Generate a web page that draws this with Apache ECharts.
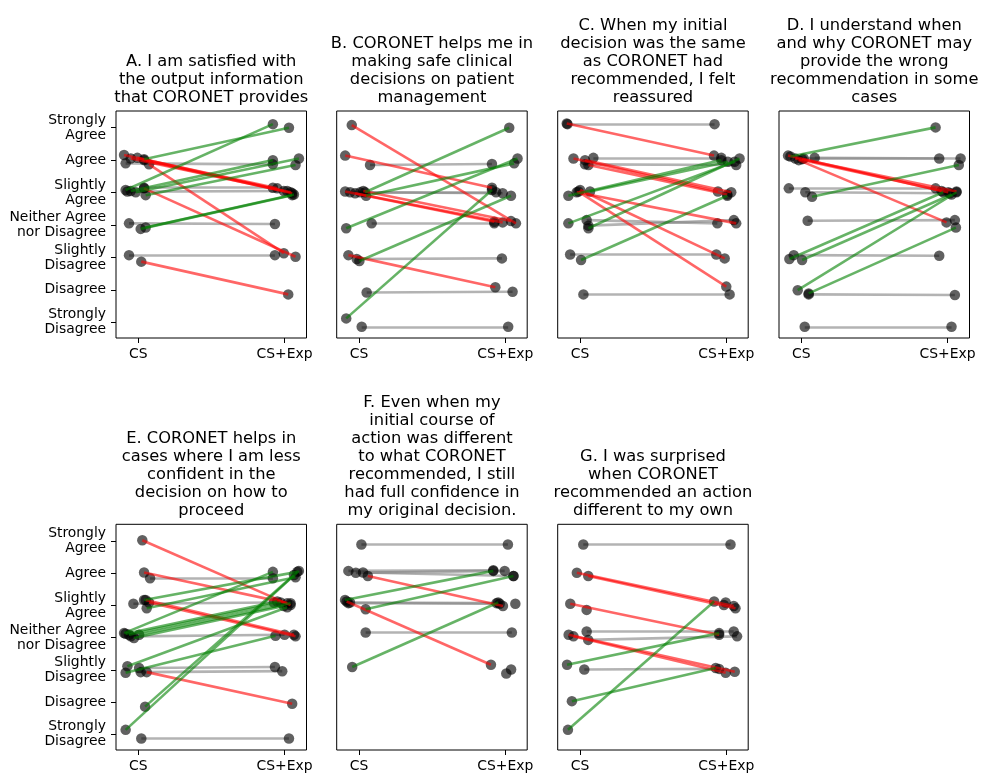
<!DOCTYPE html>
<html>
<head>
<meta charset="utf-8">
<script src="https://cdn.jsdelivr.net/npm/echarts@6/dist/echarts.min.js"></script>
<style>html,body{margin:0;padding:0;background:#fff}#c{width:982px;height:774px}</style>
</head>
<body>
<div id="c"></div>
<script>
// Likert tick labels (value 1..7)
const yLabels = ['Strongly\nDisagree','Disagree','Slightly\nDisagree','Neither Agree\nnor Disagree','Slightly\nAgree','Agree','Strongly\nAgree'];
const xLabels = ['CS','CS+Exp'];
const titles = [
  'A. I am satisfied with\nthe output information\nthat CORONET provides',
  'B. CORONET helps me in\nmaking safe clinical\ndecisions on patient\nmanagement',
  'C. When my initial\ndecision was the same\nas CORONET had\nrecommended, I felt\nreassured',
  'D. I understand when\nand why CORONET may\nprovide the wrong\nrecommendation in some\ncases',
  'E. CORONET helps in\ncases where I am less\nconfident in the\ndecision on how to\nproceed',
  'F. Even when my\ninitial course of\naction was different\nto what CORONET\nrecommended, I still\nhad full confidence in\nmy original decision.',
  'G. I was surprised\nwhen CORONET\nrecommended an action\ndifferent to my own'
];
// each participant: [CS x (jittered), CS rating (jittered), CS+Exp x (jittered), CS+Exp rating (jittered)]
const panelA = [
  [-0.087,5.08,0.920,7.11],[0.039,6.03,1.030,7.00],[-0.052,5.05,0.920,6.00],[-0.018,5.01,1.098,6.05],
  [0.050,4.92,1.075,5.85],[0.016,3.88,1.052,4.92],[0.050,3.92,1.064,4.94],
  [-0.098,6.16,0.950,5.13],[-0.052,6.05,0.995,5.05],[-0.007,6.07,1.041,5.01],[0.039,6.00,1.052,4.98],
  [0.073,5.87,0.995,3.13],[0.039,5.13,1.075,3.02],[0.020,2.87,1.025,1.86],
  [-0.087,5.90,0.920,5.87],[0.039,5.15,0.920,5.15],[-0.075,5.03,1.018,5.05],[-0.064,4.05,0.934,4.03],[-0.064,3.07,0.934,3.07]
];
const panelB = [
  [-0.050,7.08,1.073,4.05],[-0.095,6.14,0.909,5.15],[-0.095,5.03,0.925,4.10],[-0.027,4.98,0.982,4.08],
  [0.029,5.05,1.039,4.12],[-0.073,3.07,0.932,2.08],
  [0.041,5.01,1.027,7.00],[-0.088,3.90,1.084,6.05],[0.048,4.90,1.061,5.90],[0.002,2.89,1.039,4.90],[-0.088,1.12,0.909,5.08],
  [0.075,5.85,0.909,5.88],[-0.061,5.01,0.937,5.01],[0.007,5.01,0.982,4.98],[0.086,4.05,0.925,4.05],
  [-0.016,2.95,0.977,2.97],[0.052,1.92,1.050,1.94],[0.018,0.86,1.020,0.86]
];
const panelC = [
  [-0.091,7.13,0.916,6.14],[-0.086,7.11,0.920,7.11],[-0.045,6.05,0.943,5.03],[0.034,6.00,1.034,5.01],
  [0.057,5.85,1.007,4.94],[-0.023,5.01,1.068,4.05],[0.000,5.08,0.989,2.97],[-0.011,5.03,1.000,2.10],
  [-0.080,4.90,0.966,6.00],[0.068,5.03,1.011,5.95],[-0.080,4.05,1.057,5.95],[0.057,3.90,1.091,6.05],[0.007,2.92,1.007,4.90],
  [0.091,6.07,0.966,6.07],[0.034,5.87,1.068,5.85],[0.045,4.15,0.939,4.05],[0.057,3.98,1.052,4.15],
  [-0.068,3.09,0.932,3.09],[0.023,1.86,1.023,1.86]
];
const panelD = [
  [-0.075,6.11,0.918,7.01],[-0.091,6.14,0.959,5.05],[-0.041,6.05,1.005,5.01],[0.005,6.03,1.061,5.03],
  [-0.018,6.00,0.993,4.08],[0.016,6.05,0.943,6.05],[0.091,6.07,1.089,6.05],[0.073,4.87,1.077,5.85],
  [-0.086,5.13,0.918,5.13],[0.027,5.01,1.016,4.98],[-0.082,2.95,0.970,5.01],[0.005,2.92,1.027,4.94],
  [-0.025,1.99,1.061,5.01],[0.050,1.89,1.057,3.92],[0.043,4.13,1.050,4.15],[-0.052,3.07,0.943,3.05],
  [0.050,1.86,1.050,1.84],[0.023,0.86,1.027,0.86]
];
const panelE = [
  [0.027,7.02,1.041,5.01],[0.039,6.02,1.018,5.07],[0.050,5.17,1.064,4.09],[0.073,5.09,1.075,4.04],[0.057,2.93,1.052,1.95],
  [0.039,5.17,1.087,6.04],[0.057,4.91,1.075,5.87],[-0.098,4.14,0.920,6.04],[-0.064,4.09,0.973,5.09],
  [-0.030,3.99,0.995,4.98],[0.005,4.09,1.041,5.07],[-0.087,4.12,0.950,5.12],[-0.075,3.11,1.018,4.94],
  [-0.087,2.91,0.938,4.06],[0.046,1.86,1.064,5.94],[-0.087,1.14,1.098,6.07],
  [0.080,5.84,0.920,5.84],[-0.034,5.05,0.927,5.09],[-0.052,4.04,1.000,4.09],[0.005,3.06,0.934,3.09],
  [0.016,2.93,0.984,2.96],[0.020,0.87,1.030,0.87]
];
const panelF = [
  [0.016,6.89,1.018,6.89],[-0.073,6.07,0.918,6.09],[-0.022,6.01,0.996,6.07],[0.027,6.02,1.056,5.91],
  [0.060,5.91,0.984,4.98],[-0.096,5.17,0.918,6.07],[0.045,4.88,1.056,5.91],[-0.073,5.07,0.962,5.05],
  [-0.062,5.09,0.940,5.07],[-0.085,5.12,0.902,3.16],[0.045,4.16,1.045,4.16],[-0.047,3.09,0.951,5.09],
  [null,null,1.007,2.89],[null,null,1.040,3.01],[null,null,1.069,5.05]
];
const panelG = [
  [0.022,6.89,1.029,6.89],[-0.022,6.01,1.051,4.98],[0.056,5.91,1.063,4.91],[-0.067,5.05,0.951,4.09],
  [-0.078,4.09,1.058,2.94],[-0.045,4.04,0.996,2.91],[-0.089,3.16,0.951,4.14],[-0.056,2.03,0.928,3.06],
  [-0.083,1.14,0.917,5.12],[0.045,4.19,1.051,4.19],[0.056,3.93,1.074,4.04],[0.029,3.01,0.951,3.03],
  [0.045,4.86,null,null],[null,null,0.984,5.01],[null,null,0.996,5.09]
];

const panels = [panelA, panelB, panelC, panelD, panelE, panelF, panelG];
const lefts = [116, 336.7, 557.7, 779, 116, 336.7, 557.7];
const tops = [111, 111, 111, 111, 524.3, 524.3, 524.3];
const W = 190.5, H = 227;
const FONT = '"DejaVu Sans", sans-serif';

const grid = [], xAxis = [], yAxis = [], series = [], graphic = [];
panels.forEach((p, i) => {
  const first = (i === 0 || i === 4);
  grid.push({left: lefts[i], top: tops[i], width: W, height: H, show: true,
    borderColor: '#000', borderWidth: 1, backgroundColor: 'rgba(0,0,0,0)'});
  xAxis.push({gridIndex: i, type: 'value', position: 'bottom', min: -0.153, max: 1.15,
    splitLine: {show: false}, axisLine: {show: false, onZero: false},
    axisTick: {show: true, customValues: [0, 1], length: 5, lineStyle: {color: '#000', width: 1}},
    axisLabel: {show: true, customValues: [0, 1], formatter: v => xLabels[Math.round(v)],
      margin: 9, fontSize: 13.9, lineHeight: 15, color: '#000', fontFamily: FONT}});
  yAxis.push({gridIndex: i, type: 'value', position: 'left', min: 0.515, max: 7.515,
    splitLine: {show: false}, axisLine: {show: false, onZero: false},
    axisTick: {show: first, customValues: [1,2,3,4,5,6,7], length: 5, lineStyle: {color: '#000', width: 1}},
    axisLabel: {show: first, customValues: [1,2,3,4,5,6,7], formatter: v => yLabels[Math.round(v) - 1],
      margin: 10, fontSize: 13.9, lineHeight: 15, color: '#000', fontFamily: FONT, align: 'right',
      padding: [6, 0, 0, 0]}});
  const gray = [], red = [], green = [], pts = [];
  p.forEach(r => {
    const [x1, y1, x2, y2] = r;
    if (x1 !== null) pts.push([x1, y1]);
    if (x2 !== null) pts.push([x2, y2]);
    if (x1 === null || x2 === null) return;
    const d = Math.round(y2) - Math.round(y1);
    const item = {coords: [[x1, y1], [x2, y2]]};
    if (d > 0) green.push(item); else if (d < 0) red.push(item); else gray.push(item);
  });
  const mk = (data, color, z) => ({type: 'lines', coordinateSystem: 'cartesian2d', xAxisIndex: i, yAxisIndex: i,
    data, silent: true, z, lineStyle: {color, opacity: 0.6, width: 2.6, curveness: 0}});
  series.push(mk(gray, '#808080', 2));
  series.push({type: 'scatter', xAxisIndex: i, yAxisIndex: i, data: pts, symbolSize: 10.5, silent: true, z: 3,
    itemStyle: {color: '#000', opacity: 0.62}});
  series.push(mk(red, '#ff0000', 4));
  series.push(mk(green, '#008000', 4));
  graphic.push({type: 'text', x: lefts[i] + W / 2, y: tops[i] - 4.7, silent: true,
    style: {text: titles[i], fill: '#000', fontSize: 16.3, fontFamily: FONT, lineHeight: 18,
      align: 'center', verticalAlign: 'bottom'}});
});

const chart = echarts.init(document.getElementById('c'), null, {renderer: 'canvas'});
chart.setOption({animation: false, backgroundColor: '#fff', grid, xAxis, yAxis, series, graphic});
</script>
</body>
</html>
